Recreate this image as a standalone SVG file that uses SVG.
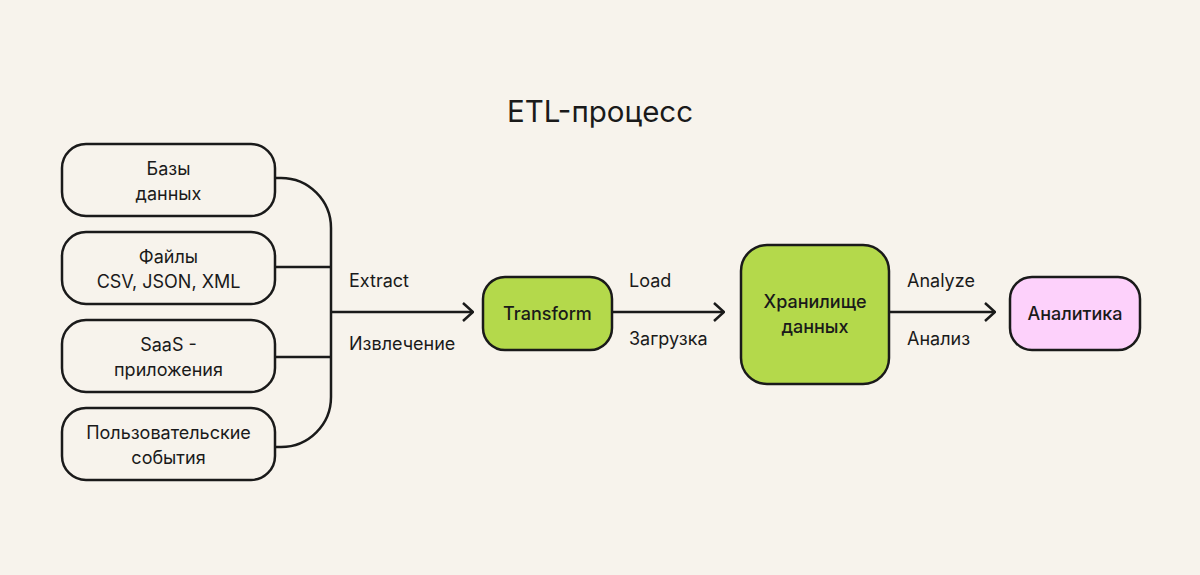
<svg xmlns="http://www.w3.org/2000/svg" width="1200" height="575" viewBox="0 0 1200 575">
<defs>
<style>
.bg{fill:#f7f3ec}
.box{fill:#f7f3ec;stroke:#1a1a1a;stroke-width:2.5}
.green{fill:#b4d94b;stroke:#1a1a1a;stroke-width:2.5}
.pink{fill:#fdd1fb;stroke:#1a1a1a;stroke-width:2.5}
.t{font-family:Inter,"Noto Sans",sans-serif;font-size:18px;fill:#1a1a1a;text-anchor:middle}
.b{font-weight:500}
.l{font-family:Inter,"Noto Sans",sans-serif;font-size:18px;fill:#1a1a1a}
.line{fill:none;stroke:#1a1a1a;stroke-width:2.5}
.title{font-family:Inter,"Noto Sans",sans-serif;font-size:29.5px;fill:#1a1a1a;text-anchor:middle}
</style>
<marker id="arr" viewBox="0 0 12 20" refX="11" refY="10" markerWidth="12" markerHeight="20" markerUnits="userSpaceOnUse" orient="auto">
<path d="M1,1 L11,10 L1,19" fill="none" stroke="#1a1a1a" stroke-width="2.5"/>
</marker>
</defs>
<rect class="bg" width="1200" height="575"/>
<text class="title" x="600" y="122">ETL-процесс</text>
<g id="connectors">
<path class="line" d="M275,178 H281 A50,50 0 0 1 331,228 V397 A50,50 0 0 1 281,447 H275"/>
<line class="line" x1="275" y1="267" x2="331" y2="267"/>
<line class="line" x1="275" y1="357" x2="331" y2="357"/>
<line class="line" x1="331" y1="312" x2="473" y2="312" marker-end="url(#arr)"/>
<line class="line" x1="612" y1="312" x2="724" y2="312" marker-end="url(#arr)"/>
<line class="line" x1="889" y1="312" x2="995" y2="312" marker-end="url(#arr)"/>
<text class="l" x="349" y="287">Extract</text>
<text class="l" x="349" y="350">Извлечение</text>
<text class="l" x="629" y="287">Load</text>
<text class="l" x="629" y="345">Загрузка</text>
<text class="l" x="907" y="287">Analyze</text>
<text class="l" x="907" y="345">Анализ</text>
</g>
<g id="db">
<rect class="box" x="62" y="144" width="213" height="72" rx="24"/>
<text class="t" x="168.5" y="175">Базы</text>
<text class="t" x="168.5" y="200">данных</text>
</g>
<g id="files">
<rect class="box" x="62" y="232" width="213" height="72" rx="24"/>
<text class="t" x="168.5" y="263">Файлы</text>
<text class="t" x="168.5" y="288">CSV, JSON, XML</text>
</g>
<g id="saas">
<rect class="box" x="62" y="320" width="213" height="72" rx="24"/>
<text class="t" x="168.5" y="351">SaaS -</text>
<text class="t" x="168.5" y="376">приложения</text>
</g>
<g id="events">
<rect class="box" x="62" y="408" width="213" height="72" rx="24"/>
<text class="t" x="168.5" y="439">Пользовательские</text>
<text class="t" x="168.5" y="464">события</text>
</g>
<g id="transform">
<rect class="green" x="483" y="277" width="129" height="73" rx="22"/>
<text class="t b" x="547.5" y="320">Transform</text>
</g>
<g id="warehouse">
<rect class="green" x="741" y="245" width="148" height="139" rx="26"/>
<text class="t b" x="815" y="308">Хранилище</text>
<text class="t b" x="815" y="333">данных</text>
</g>
<g id="analytics">
<rect class="pink" x="1010" y="277" width="130" height="73" rx="22"/>
<text class="t b" x="1075" y="320">Аналитика</text>
</g>
</svg>
